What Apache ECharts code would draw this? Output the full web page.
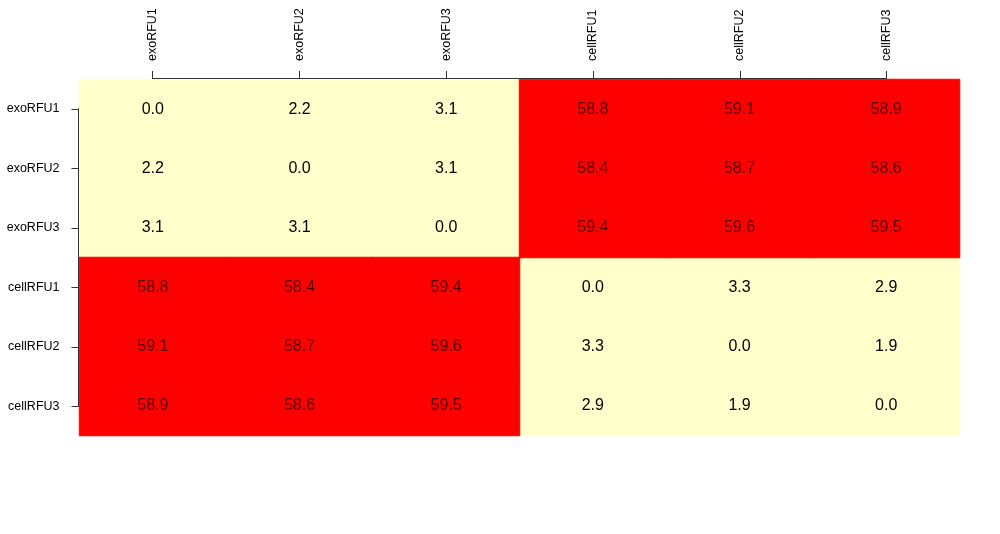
<!DOCTYPE html>
<html>
<head>
<meta charset="utf-8">
<script src="https://cdn.jsdelivr.net/npm/echarts@6/dist/echarts.min.js"></script>
<style>html,body{margin:0;padding:0;background:#fff;}#c{width:1000px;height:534px;}</style>
</head>
<body>
<div id="c"></div>
<script>
const colLabels = ['exoRFU1','exoRFU2','exoRFU3','cellRFU1','cellRFU2','cellRFU3'];
const rowLabels = ['exoRFU1','exoRFU2','exoRFU3','cellRFU1','cellRFU2','cellRFU3'];
const row_exoRFU1  = [0.0, 2.2, 3.1, 58.8, 59.1, 58.9];
const row_exoRFU2  = [2.2, 0.0, 3.1, 58.4, 58.7, 58.6];
const row_exoRFU3  = [3.1, 3.1, 0.0, 59.4, 59.6, 59.5];
const row_cellRFU1 = [58.8, 58.4, 59.4, 0.0, 3.3, 2.9];
const row_cellRFU2 = [59.1, 58.7, 59.6, 3.3, 0.0, 1.9];
const row_cellRFU3 = [58.9, 58.6, 59.5, 2.9, 1.9, 0.0];
const matrix = [row_exoRFU1,row_exoRFU2,row_exoRFU3,row_cellRFU1,row_cellRFU2,row_cellRFU3];
const threshold = 30;

const lowData = [], highData = [];
matrix.forEach((row, r) => row.forEach((v, c) => (v < threshold ? lowData : highData).push([c, r, v])));

const chart = echarts.init(document.getElementById('c'), null, {renderer:'canvas'});
const font = 'Liberation Sans, Arial, sans-serif';
const YEL = '#FFFFCC', RED = '#FE0000';
function hm(d, color, textColor){
  return {
    type:'heatmap', xAxisIndex:0, yAxisIndex:0, data:d, z:1,
    itemStyle:{color:color, borderColor:color, borderWidth:1},
    label:{show:true, fontSize:16, fontFamily:font, color:textColor,
      formatter:p=>p.value[2].toFixed(1)},
    emphasis:{disabled:true}
  };
}
chart.setOption({
  animation:false,
  backgroundColor:'#ffffff',
  grid:[
    {left:79.5, right:40.5, top:79.5, bottom:98.5},
    {left:152.4, right:113.4, top:78, bottom:98},
    {left:78.5, right:40, top:108.75, bottom:127.75}
  ],
  xAxis:[
    {gridIndex:0, type:'category', data:colLabels, show:false},
    {gridIndex:1, type:'category', data:colLabels, position:'top', boundaryGap:false, z:10,
     axisLine:{show:true, onZero:false, lineStyle:{color:'#333', width:1}},
     axisTick:{show:true, inside:false, length:7, lineStyle:{color:'#333'}},
     axisLabel:{rotate:-90, margin:17, fontSize:12.5, color:'#000', fontFamily:font, interval:0},
     splitLine:{show:false}},
    {gridIndex:2, type:'value', show:false}
  ],
  yAxis:[
    {gridIndex:0, type:'category', data:rowLabels, inverse:true, show:false},
    {gridIndex:1, type:'value', show:false},
    {gridIndex:2, type:'category', data:rowLabels, inverse:true, boundaryGap:false, z:10,
     axisLine:{show:true, onZero:false, lineStyle:{color:'#333', width:1}},
     axisTick:{show:true, length:7, lineStyle:{color:'#333'}},
     axisLabel:{margin:19, fontSize:12.5, color:'#000', fontFamily:font, interval:0},
     splitLine:{show:false}}
  ],
  series:[hm(lowData, YEL, '#000'), hm(highData, RED, '#5a0000')]
});
</script>
</body>
</html>
